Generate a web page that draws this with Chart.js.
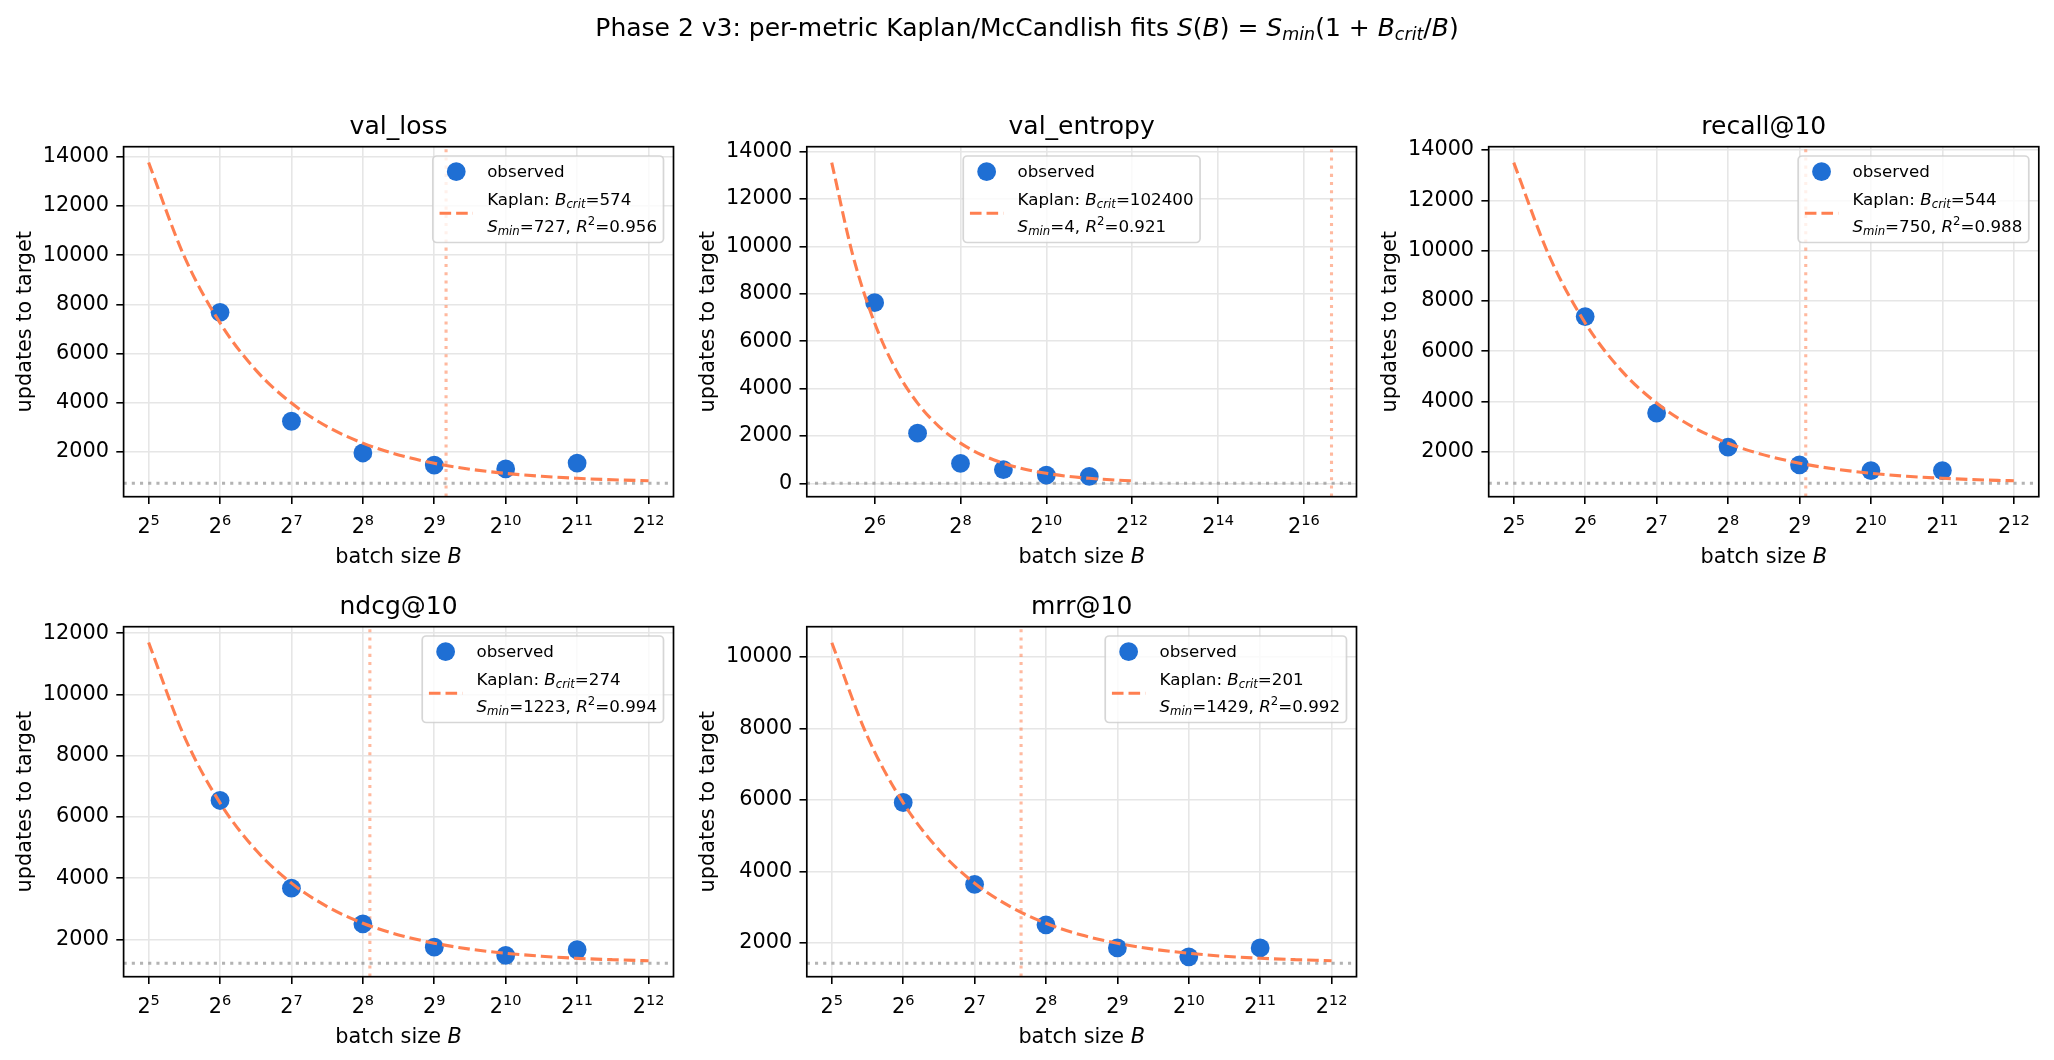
<!DOCTYPE html>
<html><head><meta charset="utf-8">
<script src="https://cdn.jsdelivr.net/npm/chart.js@4.4.1/dist/chart.umd.min.js"></script>
<style>
html,body{margin:0;padding:0;background:#fff;}
#wrap{position:relative;width:2054px;height:1060px;overflow:hidden;background:#fff;}
#wrap canvas{position:absolute;left:0;top:0;}
</style></head><body><div id="wrap"></div>
<script>
// ---------------- data ----------------
const suptitleText = 'Phase 2 v3: per-metric Kaplan/McCandlish fits ';
const metricNames = ['val_loss', 'val_entropy', 'recall@10', 'ndcg@10', 'mrr@10'];
const batchSizes = [64, 128, 256, 512, 1024, 2048];
const obsValLoss = [7680, 3250, 1960, 1470, 1310, 1550];
const obsValEntropy = [7630, 2120, 843, 580, 350, 295];
const obsRecall = [7380, 3545, 2190, 1480, 1255, 1255];
const obsNdcg = [6540, 3675, 2510, 1750, 1480, 1665];
const obsMrr = [5930, 3640, 2505, 1860, 1610, 1860];

const fitB = [32, 45, 64, 91, 128, 181, 256, 362, 512, 724, 1024, 1448, 2048, 2896, 4096];
const fitValLoss = [13770, 10000, 7250, 5310, 3990, 3030, 2360, 1880, 1540, 1300, 1130, 1015, 930, 870, 830];
const fitValEntropy = [13540, 9630, 6770, 4760, 3390, 2400, 1700, 1200, 850, 600, 425, 300, 215, 155, 110];
const fitRecall = [13500, 9820, 7125, 5230, 3940, 3000, 2340, 1880, 1550, 1315, 1150, 1030, 950, 890, 850];
const fitNdcg = [11700, 8670, 6460, 4905, 3840, 3075, 2530, 2150, 1880, 1685, 1550, 1455, 1385, 1340, 1305];
const fitMrr = [10400, 7810, 5920, 4585, 3670, 3015, 2550, 2220, 1990, 1825, 1710, 1625, 1570, 1530, 1500];

const bCrit = [574, 102400, 544, 274, 201];
const sMin = [727, 4, 750, 1223, 1429];
const r2Text = ['0.956', '0.921', '0.988', '0.994', '0.992'];

const xTicksStd = [32, 64, 128, 256, 512, 1024, 2048, 4096];
const xTickExpStd = ['5', '6', '7', '8', '9', '10', '11', '12'];
const xTicksWide = [64, 256, 1024, 4096, 16384, 65536];
const xTickExpWide = ['6', '8', '10', '12', '14', '16'];
const xLimStd = [25.1, 5219];
const xLimWide = [21.4, 153300];

const yTicks14 = [2000, 4000, 6000, 8000, 10000, 12000, 14000];
const yTicks14z = [0, 2000, 4000, 6000, 8000, 10000, 12000, 14000];
const yTicks12 = [2000, 4000, 6000, 8000, 10000, 12000];
const yTicks10 = [2000, 4000, 6000, 8000, 10000];
const yLims = [[182, 14415], [-561, 14211], [217, 14132], [785, 12215], [1054, 10850]];

// ---------------- layout / style ----------------
const FONT = "'DejaVu Sans', 'Noto Sans', sans-serif";
const BLUE = '#1f6fd4';
const CORAL = '#ff7f50';
const W = 2054, H = 1060;
const boxes = [
  [123.6, 146.7, 673.5, 496.7],
  [806.8, 146.7, 1356.5, 496.7],
  [1488.7, 146.7, 2038.8, 496.7],
  [123.6, 626.7, 673.5, 976.7],
  [806.8, 626.7, 1356.5, 976.7]
];
const legendLoc = ['right', 'center', 'right', 'right', 'right'];

const panels = [
  {obs: obsValLoss, fit: fitValLoss, xTicks: xTicksStd, xExp: xTickExpStd, xLim: xLimStd, yTicks: yTicks14},
  {obs: obsValEntropy, fit: fitValEntropy, xTicks: xTicksWide, xExp: xTickExpWide, xLim: xLimWide, yTicks: yTicks14z},
  {obs: obsRecall, fit: fitRecall, xTicks: xTicksStd, xExp: xTickExpStd, xLim: xLimStd, yTicks: yTicks14},
  {obs: obsNdcg, fit: fitNdcg, xTicks: xTicksStd, xExp: xTickExpStd, xLim: xLimStd, yTicks: yTicks12},
  {obs: obsMrr, fit: fitMrr, xTicks: xTicksStd, xExp: xTickExpStd, xLim: xLimStd, yTicks: yTicks10}
];

// ---------------- rich text helpers ----------------
function segFont(s, size) {
  const fs = (s.sub || s.sup) ? size * 0.7 : size;
  return (s.it ? 'italic ' : '') + fs.toFixed(2) + 'px ' + FONT;
}
function richWidth(ctx, segs, size) {
  let w = 0;
  for (const s of segs) { ctx.font = segFont(s, size); w += ctx.measureText(s.t).width; }
  return w;
}
function drawRich(ctx, segs, x, baseY, size, align) {
  const w = richWidth(ctx, segs, size);
  let cx = align === 'center' ? x - w / 2 : (align === 'right' ? x - w : x);
  ctx.textAlign = 'left';
  ctx.textBaseline = 'alphabetic';
  for (const s of segs) {
    ctx.font = segFont(s, size);
    const dy = s.sub ? size * 0.17 : (s.sup ? -size * 0.4 : 0);
    ctx.fillText(s.t, cx, baseY + dy);
    cx += ctx.measureText(s.t).width;
  }
  return w;
}

function drawLegend(ctx, i, a) {
  const fs = 16.7;
  const line2 = [{t: 'Kaplan: '}, {t: 'B', it: 1}, {t: 'crit', it: 1, sub: 1}, {t: '=' + bCrit[i]}];
  const line3 = [{t: 'S', it: 1}, {t: 'min', it: 1, sub: 1}, {t: '=' + sMin[i] + ', '}, {t: 'R', it: 1}, {t: '2', sup: 1}, {t: '=' + r2Text[i]}];
  const line1 = [{t: 'observed'}];
  const tw = Math.max(richWidth(ctx, line1, fs), richWidth(ctx, line2, fs), richWidth(ctx, line3, fs));
  const boxW = 6.7 + 33.4 + 14.2 + tw + 6.5;
  const boxH = 86.5;
  const top = a.top + 9.3;
  const left = legendLoc[i] === 'center' ? (a.left + a.right) / 2 - boxW / 2 : a.right - 10 - boxW;
  // frame
  ctx.save();
  ctx.beginPath();
  if (ctx.roundRect) ctx.roundRect(left, top, boxW, boxH, 4); else ctx.rect(left, top, boxW, boxH);
  ctx.fillStyle = 'rgba(255,255,255,0.8)';
  ctx.fill();
  ctx.lineWidth = 1.7;
  ctx.strokeStyle = 'rgba(204,204,204,0.8)';
  ctx.stroke();
  // observed marker
  ctx.beginPath();
  ctx.arc(left + 6.7 + 16.7, top + 15.7, 9.4, 0, Math.PI * 2);
  ctx.fillStyle = BLUE;
  ctx.fill();
  // dashed handle
  ctx.beginPath();
  ctx.setLineDash([11.6, 5]);
  ctx.lineWidth = 3.1;
  ctx.strokeStyle = CORAL;
  ctx.moveTo(left + 6.7, top + 57.3);
  ctx.lineTo(left + 6.7 + 33.4, top + 57.3);
  ctx.stroke();
  ctx.setLineDash([]);
  // texts
  ctx.fillStyle = '#000';
  const tx = left + 6.7 + 33.4 + 14.2;
  drawRich(ctx, line1, tx, top + 21.3, fs, 'left');
  drawRich(ctx, line2, tx, top + 49.3, fs, 'left');
  drawRich(ctx, line3, tx, top + 75.7, fs, 'left');
  ctx.restore();
}

function decoPlugin(i) {
  const p = panels[i];
  return {
    id: 'deco' + i,
    afterDatasetsDraw(chart) {
      const ctx = chart.ctx;
      const a = chart.chartArea;
      const xs = chart.scales.x;
      ctx.save();
      // frame (spines)
      ctx.strokeStyle = '#000';
      ctx.lineWidth = 1.7;
      ctx.strokeRect(a.left, a.top, a.right - a.left, a.bottom - a.top);
      // legend
      drawLegend(ctx, i, a);
      ctx.fillStyle = '#000';
      // x tick labels 2^n
      p.xTicks.forEach((v, k) => {
        const px = xs.getPixelForValue(v);
        drawRich(ctx, [{t: '2'}, {t: p.xExp[k], sup: 1}], px, a.bottom + 36.6, 20.8, 'center');
      });
      // x label
      drawRich(ctx, [{t: 'batch size '}, {t: 'B', it: 1}], (a.left + a.right) / 2, a.bottom + 66.3, 20.8, 'center');
      // y label
      ctx.save();
      ctx.translate(a.left - 93, (a.top + a.bottom) / 2);
      ctx.rotate(-Math.PI / 2);
      ctx.font = '20.8px ' + FONT;
      ctx.textAlign = 'center';
      ctx.textBaseline = 'alphabetic';
      ctx.fillText('updates to target', 0, 0);
      ctx.restore();
      // title
      ctx.font = '25px ' + FONT;
      ctx.textAlign = 'center';
      ctx.textBaseline = 'alphabetic';
      ctx.fillText(metricNames[i], (a.left + a.right) / 2, a.top - 12.5);
      // figure suptitle
      if (i === 0) {
        drawRich(ctx, [
          {t: suptitleText}, {t: 'S', it: 1}, {t: '('}, {t: 'B', it: 1}, {t: ') = '},
          {t: 'S', it: 1}, {t: 'min', it: 1, sub: 1}, {t: '(1 + '}, {t: 'B', it: 1},
          {t: 'crit', it: 1, sub: 1}, {t: '/'}, {t: 'B', it: 1}, {t: ')'}
        ], W / 2, 36, 25, 'center');
      }
      ctx.restore();
    }
  };
}

const wrap = document.getElementById('wrap');
Chart.defaults.font.family = FONT;

panels.forEach((p, i) => {
  const cv = document.createElement('canvas');
  cv.width = W; cv.height = H;
  cv.style.width = W + 'px'; cv.style.height = H + 'px';
  wrap.appendChild(cv);
  const [L, T, R, B] = boxes[i];
  const YW = 100, XH = 40;
  const yLim = yLims[i];
  const gridOpts = {color: '#e6e6e6', lineWidth: 1.6, tickLength: 7.3, tickColor: '#000', tickWidth: 1.6, drawTicks: true};
  new Chart(cv, {
    type: 'line',
    data: {
      datasets: [
        {
          label: 'Kaplan fit',
          data: fitB.map((b, k) => ({x: b, y: p.fit[k]})),
          borderColor: CORAL, borderWidth: 3.1, borderDash: [11.6, 5],
          pointRadius: 0, cubicInterpolationMode: 'monotone', fill: false, order: 0
        },
        {
          label: 'observed',
          data: batchSizes.map((b, k) => ({x: b, y: p.obs[k]})),
          showLine: false, pointRadius: 9.4, pointHoverRadius: 9.4,
          pointBackgroundColor: BLUE, pointBorderWidth: 0, pointBorderColor: BLUE, order: 1
        },
        {
          label: 'B_crit',
          data: [{x: bCrit[i], y: yLim[0]}, {x: bCrit[i], y: yLim[1]}],
          borderColor: 'rgba(255,127,80,0.55)', borderWidth: 3.1, borderDash: [3.1, 5.1],
          pointRadius: 0, fill: false, order: 2
        },
        {
          label: 'S_min',
          data: [{x: p.xLim[0], y: sMin[i]}, {x: p.xLim[1], y: sMin[i]}],
          borderColor: 'rgba(128,128,128,0.6)', borderWidth: 3.1, borderDash: [3.1, 5.1],
          pointRadius: 0, fill: false, order: 3
        }
      ]
    },
    options: {
      responsive: false, animation: false, devicePixelRatio: 1, events: [],
      layout: {padding: {left: L - YW, top: T, right: W - R, bottom: H - B - XH}},
      plugins: {legend: {display: false}, tooltip: {enabled: false}, title: {display: false}},
      scales: {
        x: {
          type: 'logarithmic', bounds: 'data', min: p.xLim[0], max: p.xLim[1],
          afterBuildTicks: s => { s.ticks = p.xTicks.map(v => ({value: v})); },
          afterFit: s => { s.height = XH; },
          ticks: {display: false},
          grid: gridOpts, border: {display: false}
        },
        y: {
          type: 'linear', bounds: 'data', min: yLim[0], max: yLim[1],
          afterBuildTicks: s => { s.ticks = p.yTicks.map(v => ({value: v})); },
          afterFit: s => { s.width = YW; },
          ticks: {color: '#000', font: {family: FONT, size: 20.8}, padding: 7.3, callback: v => String(v), autoSkip: false},
          grid: gridOpts, border: {display: false}
        }
      }
    },
    plugins: [decoPlugin(i)]
  });
});
</script>
</body></html>
